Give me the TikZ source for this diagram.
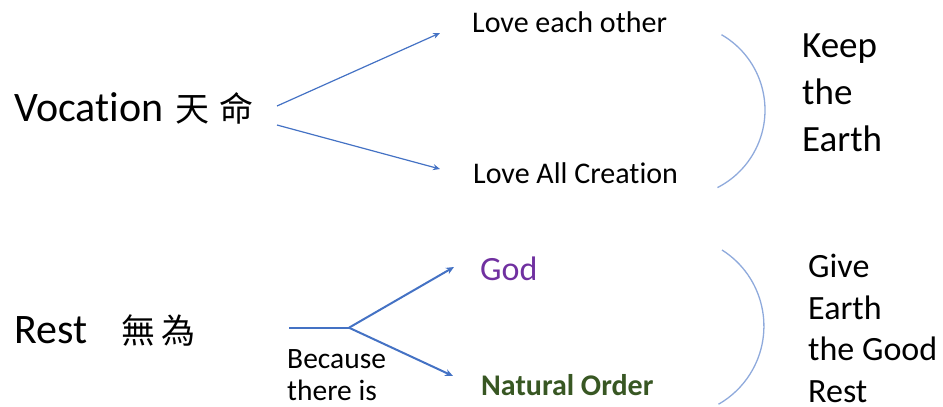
\documentclass[tikz,border=0pt]{standalone}
\usepackage{fontspec}
\setmainfont{Carlito}[Ligatures=NoCommon]
\newfontfamily\cjk{Noto Sans CJK TC}
\usetikzlibrary{arrows.meta}
\definecolor{arrowblue}{HTML}{4472C4}
\definecolor{arcblue}{HTML}{8FAADC}
\definecolor{godpurple}{HTML}{7030A0}
\definecolor{ordergreen}{HTML}{385723}
\tikzset{
  txt/.style={inner sep=0pt, anchor=base west, align=left},
  thinarrow/.style={draw=arrowblue, line width=1.2pt, -{Stealth[length=7pt,width=6pt]}},
  thickarrow/.style={draw=arrowblue, line width=2pt, -{Stealth[length=8pt,width=7pt]}},
  thickline/.style={draw=arrowblue, line width=2pt},
  arcline/.style={draw=arcblue, line width=1.3pt}
}
\begin{document}
\begin{tikzpicture}[x=1pt,y=1pt]
\useasboundingbox (0,0) rectangle (943,-407);
% top group
\node[txt, node font=\fontsize{42}{50}\selectfont] (vocation) at (14,-121) {Vocation\hspace{3pt} {\cjk\fontsize{34}{34}\selectfont 天\hspace{10pt}命}};
\node[txt, node font=\fontsize{30}{36}\selectfont] (loveeach) at (472,-32) {Love each other};
\node[txt, node font=\fontsize{30}{36}\selectfont] (loveall) at (473,-183) {Love All Creation};
\coordinate (v1) at (277,-106);
\coordinate (v2) at (277,-125);
\coordinate (e1) at (440,-33);
\coordinate (e2) at (440,-169);
\draw[thinarrow] (v1) -- (e1);
\draw[thinarrow] (v2) -- (e2);
\coordinate (arcA) at (721.5,-34.7);
\draw[arcline] (arcA) arc[start angle=60, end angle=-63, radius=87];
\node[txt, node font=\fontsize{37}{47}\selectfont] (keep) at (802,-151) {Keep\\the\\Earth};
% bottom group
\node[txt, node font=\fontsize{42}{50}\selectfont] (rest) at (14,-343) {Rest\hspace{34pt}{\cjk\fontsize{34}{34}\selectfont 無\hspace{6pt}為}};
\coordinate (r0) at (289,-327.7);
\coordinate (fork) at (349,-327.7);
\coordinate (g1) at (454,-267);
\coordinate (g2) at (453,-376);
\draw[thickline] (r0) -- (fork);
\draw[thickarrow] (fork) -- (g1);
\draw[thickarrow] (fork) -- (g2);
\node[txt, node font=\fontsize{29.5}{32}\selectfont] (because) at (287,-400) {Because\\there is};
\node[txt, text=godpurple, node font=\fontsize{34}{40}\selectfont] (god) at (480,-280) {God};
\node[txt, text=ordergreen, node font=\fontsize{30}{36}\selectfont\bfseries] (order) at (481,-395) {Natural Order};
\coordinate (arcB) at (722,-250);
\draw[arcline] (arcB) arc[start angle=57.7, end angle=-60.3, radius=90];
\node[txt, node font=\fontsize{34}{41.5}\selectfont] (give) at (808,-402) {Give\\Earth\\the Good\\Rest};
\end{tikzpicture}
\end{document}
